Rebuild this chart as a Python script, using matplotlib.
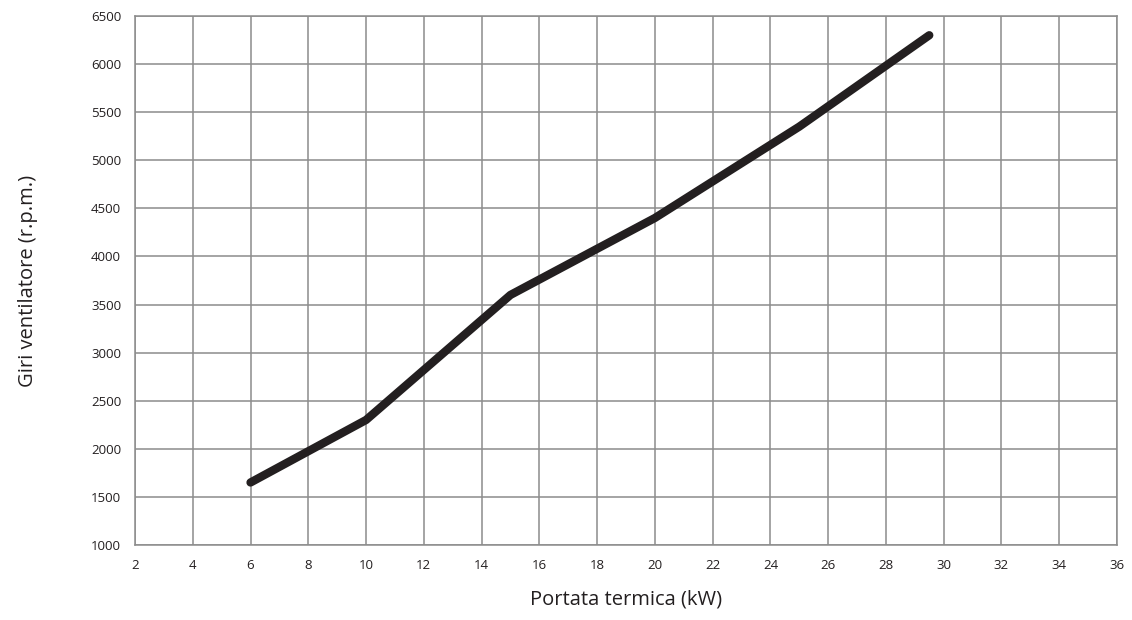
import matplotlib
matplotlib.use('Agg')
import matplotlib.pyplot as plt

portata = [6, 10, 15, 20, 25, 29.5]
giri = [1650, 2300, 3600, 4400, 5350, 6300]
xticks = list(range(2, 37, 2))
yticks = list(range(1000, 6501, 500))

plt.rcParams['font.family'] = ['Open Sans', 'DejaVu Sans']

fig = plt.figure(figsize=(11.32, 6.2), dpi=100)
ax = fig.add_axes([135 / 1132, 75 / 620, 982 / 1132, 529 / 620])

ax.plot(portata, giri, color='#231f20', linewidth=6, solid_capstyle='round',
        solid_joinstyle='round', zorder=3)

ax.set_xlim(2, 36)
ax.set_ylim(1000, 6500)
ax.set_xticks(xticks)
ax.set_yticks(yticks)
ax.tick_params(length=0, labelsize=9.5, pad=10, colors='#231f20')
ax.grid(True, color='#8c8c8c', linewidth=1.1)
ax.set_axisbelow(True)
for s in ax.spines.values():
    s.set_color('#8c8c8c')
    s.set_linewidth(1.1)

ax.set_xlabel('Portata termica (kW)', fontsize=14.5, labelpad=13, color='#231f20')
ax.set_ylabel('Giri ventilatore (r.p.m.)', fontsize=14.5, labelpad=38, color='#231f20')

fig.savefig('out.png', dpi=100)
